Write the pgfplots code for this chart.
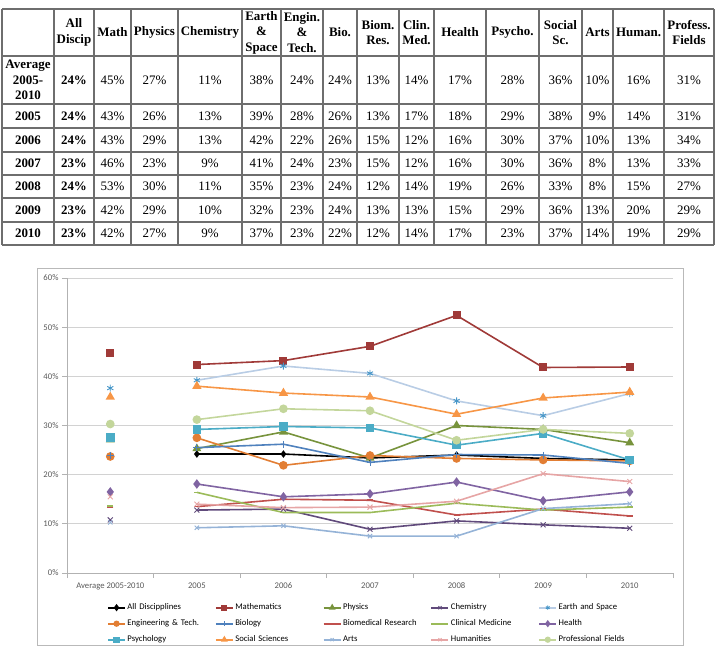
\documentclass[border=0pt]{standalone}
\usepackage{pgfplots}
\pgfplotsset{compat=1.18}
\usepackage{fontspec}
\setmainfont{Liberation Serif}
\newfontfamily\chartfont{Carlito}
\definecolor{tickgray}{RGB}{89,89,89}
\definecolor{mathc}{RGB}{160,58,56}
\definecolor{physc}{RGB}{119,147,60}
\definecolor{chemc}{RGB}{96,74,123}
\definecolor{earthl}{RGB}{185,205,229}
\definecolor{earthm}{RGB}{70,150,200}
\definecolor{engc}{RGB}{226,126,52}
\definecolor{bioc}{RGB}{79,129,189}
\definecolor{biomedc}{RGB}{192,80,77}
\definecolor{clinc}{RGB}{155,187,89}
\definecolor{healthc}{RGB}{128,100,162}
\definecolor{psychc}{RGB}{75,172,198}
\definecolor{socc}{RGB}{247,150,70}
\definecolor{artsc}{RGB}{149,179,215}
\definecolor{humc}{RGB}{230,165,165}
\definecolor{profc}{RGB}{195,214,155}
\definecolor{tabline}{RGB}{110,110,110}
\newcommand\tabfont{\fontsize{13}{15.5}\selectfont}
\def\colx{{28,74,112.5,154.5,210,261.5,302,340,378,416.5,460,512.5,560.5,597.5,638.5,689}}
\newcommand\datarow[3]{%
  \node[font=\tabfont\bfseries,align=center] at (28,#1) {#2};
  \foreach \v [count=\i] in {#3}{%
    \pgfmathsetmacro\xx{\colx[\i]}%
    \ifnum\i=1\relax
      \node[font=\tabfont\bfseries] at (\xx,#1) {\v\%};%
    \else
      \node[font=\tabfont] at (\xx,#1) {\v\%};%
    \fi}}
\begin{document}
\begin{tikzpicture}
\useasboundingbox (0,0) rectangle (716bp,-653bp);
% ---------- table ----------
\begin{scope}[x=1bp,y=-1bp]
  \foreach \x in {2,54,94,131,178,242,281,323,357,399,434,486,539,582,613,664,714}
    \draw[tabline,line width=1.1bp] (\x,9) -- (\x,245);
  \foreach \y in {9,56,104,128,152,175,198,222,245}
    \draw[tabline,line width=1.1bp] (2,\y) -- (714,\y);
  \foreach \i/\t in {1/{All\\Discip},2/Math,3/Physics,4/Chemistry,5/{Earth\\\&\\Space},6/{Engin.\\\&\\Tech.},7/Bio.,8/{Biom.\\Res.},9/{Clin.\\Med.},10/Health,11/Psycho.,12/{Social\\Sc.},13/Arts,14/Human.,15/{Profess.\\Fields}}{%
    \pgfmathsetmacro\xx{\colx[\i]}%
    \node[font=\tabfont\bfseries,align=center,inner sep=0pt] at (\xx,32.5) {\t};}
  \datarow{80}{Average\\2005-\\2010}{24,45,27,11,38,24,24,13,14,17,28,36,10,16,31}
  \datarow{116}{2005}{24,43,26,13,39,28,26,13,17,18,29,38,9,14,31}
  \datarow{140}{2006}{24,43,29,13,42,22,26,15,12,16,30,37,10,13,34}
  \datarow{163.5}{2007}{23,46,23,9,41,24,23,15,12,16,30,36,8,13,33}
  \datarow{186.5}{2008}{24,53,30,11,35,23,24,12,14,19,26,33,8,15,27}
  \datarow{210}{2009}{23,42,29,10,32,23,24,13,13,15,29,36,13,20,29}
  \datarow{233.5}{2010}{23,42,27,9,37,23,22,12,14,17,23,37,14,19,29}
  % chart frame
  \draw[gray!55,line width=0.9bp] (37,268) rectangle (683,645);
\end{scope}
% ---------- chart ----------
\begin{axis}[
  at={(67bp,-573bp)}, anchor=south west, scale only axis,
  width=606bp, height=295bp,
  xmin=-0.5, xmax=6.5, ymin=0, ymax=60,
  axis x line*=bottom, axis y line*=left,
  axis line style={gray!60,-,line width=0.8bp},
  ytick={0,10,...,60}, yticklabels={0\%,10\%,20\%,30\%,40\%,50\%,60\%},
  xtick={-0.5,0.5,...,6.5}, xticklabels={},
  extra x ticks={0,1,2,3,4,5,6},
  extra x tick labels={Average 2005-2010,2005,2006,2007,2008,2009,2010},
  extra x tick style={major tick length=0pt, grid=none},
  tick align=outside, major tick length=5bp,
  tick style={gray!60,line width=0.8bp},
  ymajorgrids, grid style={gray!35,line width=0.8bp},
  ticklabel style={font=\chartfont\fontsize{8.7}{10}\selectfont, text=tickgray},
  xticklabel style={yshift=-6bp},
  unbounded coords=jump,
  every axis plot/.append style={line width=1.6bp},
  legend image post style={line width=1.8bp, mark size=2.2bp},
  legend columns=5,
  legend style={at={(axis description cs:0.061,-0.083)}, anchor=north west,
    draw=none, fill=none, font=\chartfont\fontsize{8.7}{10}\selectfont,
    nodes={text width=86bp, inner sep=1.5bp, minimum height=16bp, anchor=west},
    row sep=0pt},
]
\addplot[black, mark=diamond*, mark size=2.5bp] coordinates {(0,23.8) (0.5,nan) (1,24.2) (2,24.2) (3,23.4) (4,24.0) (5,23.3) (6,23.0)};
\addlegendentry{All Discipplines}
\addplot[mathc, mark=square*, mark size=3.2bp] coordinates {(0,44.8) (0.5,nan) (1,42.4) (2,43.2) (3,46.1) (4,52.4) (5,41.8) (6,41.9)};
\addlegendentry{Mathematics}
\addplot[physc, mark=triangle*, mark size=3.6bp] coordinates {(0,27.1) (0.5,nan) (1,25.3) (2,28.7) (3,23.4) (4,30.0) (5,29.2) (6,26.5)};
\addlegendentry{Physics}
\addplot[chemc, mark=x, mark size=3.5bp, mark options={line width=0.9bp}] coordinates {(0,10.8) (0.5,nan) (1,12.8) (2,13.0) (3,8.9) (4,10.6) (5,9.8) (6,9.1)};
\addlegendentry{Chemistry}
\addplot[earthl, mark=asterisk, mark size=3.5bp, mark options={earthm,line width=0.9bp}] coordinates {(0,37.6) (0.5,nan) (1,39.2) (2,42.1) (3,40.6) (4,35.0) (5,32.0) (6,36.5)};
\addlegendentry{Earth and Space}
\addplot[engc, mark=*, mark size=3.5bp] coordinates {(0,23.7) (0.5,nan) (1,27.5) (2,21.9) (3,23.9) (4,23.3) (5,23.0) (6,22.8)};
\addlegendentry{Engineering \& Tech.}
\addplot[bioc, mark=+, mark size=3.5bp, mark options={line width=0.9bp}] coordinates {(0,24.0) (0.5,nan) (1,25.5) (2,26.2) (3,22.5) (4,24.1) (5,24.0) (6,22.3)};
\addlegendentry{Biology}
\addplot[biomedc, mark=-, mark size=3bp] coordinates {(0,13.4) (0.5,nan) (1,13.5) (2,15.0) (3,14.8) (4,11.8) (5,13.0) (6,11.6)};
\addlegendentry{Biomedical Research}
\addplot[clinc, mark=-, mark size=3bp] coordinates {(0,13.6) (0.5,nan) (1,16.4) (2,12.3) (3,12.3) (4,14.2) (5,12.8) (6,13.4)};
\addlegendentry{Clinical Medicine}
\addplot[healthc, mark=diamond*, mark size=3.5bp] coordinates {(0,16.5) (0.5,nan) (1,18.1) (2,15.5) (3,16.1) (4,18.5) (5,14.7) (6,16.5)};
\addlegendentry{Health}
\addplot[psychc, mark=square*, mark size=3.5bp] coordinates {(0,27.6) (0.5,nan) (1,29.2) (2,29.8) (3,29.5) (4,26.0) (5,28.4) (6,23.0)};
\addlegendentry{Psychology}
\addplot[socc, mark=triangle*, mark size=3.8bp] coordinates {(0,35.8) (0.5,nan) (1,38.0) (2,36.6) (3,35.8) (4,32.3) (5,35.6) (6,36.8)};
\addlegendentry{Social Sciences}
\addplot[artsc, mark=x, mark size=3bp, mark options={line width=0.9bp}] coordinates {(0,10.3) (0.5,nan) (1,9.2) (2,9.6) (3,7.5) (4,7.5) (5,13.1) (6,14.1)};
\addlegendentry{Arts}
\addplot[humc, mark=x, mark size=3.5bp, mark options={line width=0.9bp}] coordinates {(0,15.5) (0.5,nan) (1,14.0) (2,13.3) (3,13.4) (4,14.6) (5,20.2) (6,18.6)};
\addlegendentry{Humanities}
\addplot[profc, mark=*, mark size=3.5bp] coordinates {(0,30.3) (0.5,nan) (1,31.2) (2,33.4) (3,33.0) (4,27.0) (5,29.2) (6,28.4)};
\addlegendentry{Professional Fields}
\end{axis}
\end{tikzpicture}
\end{document}
